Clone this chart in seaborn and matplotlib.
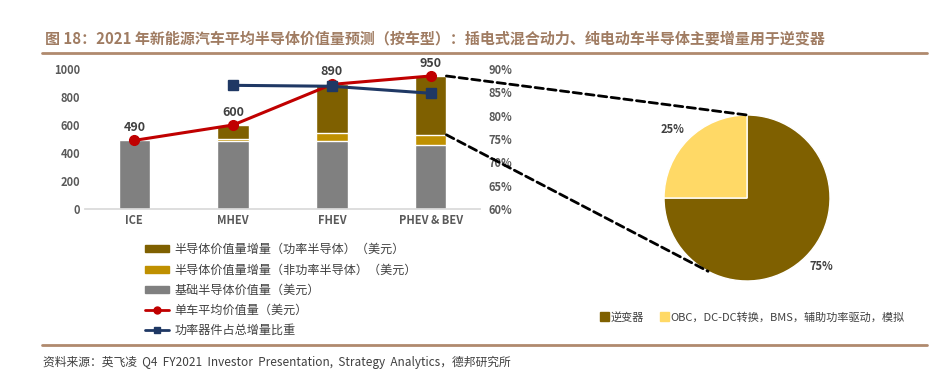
import numpy as np
import pandas as pd
import seaborn as sns
import matplotlib.pyplot as plt
from matplotlib.patches import ConnectionPatch, Patch
from matplotlib.lines import Line2D

# 数据
categories = ["ICE", "MHEV", "FHEV", "PHEV & BEV"]
base_value = [490, 485, 485, 460]          # 基础半导体价值量
non_power_inc = [0, 15, 55, 70]            # 非功率半导体增量
power_inc = [0, 100, 350, 420]             # 功率半导体增量
avg_value = [490, 600, 890, 950]           # 单车平均价值量
power_share = [np.nan, 86.5, 86.3, 84.8]   # 功率器件占总增量比重 (%)

pie_labels = ["逆变器", "OBC，DC-DC转换，BMS，辅助功率驱动，模拟"]
pie_values = [75, 25]

sns.set_theme(style="white")
plt.rcParams["font.family"] = ["Noto Sans CJK SC", "DejaVu Sans"]

c_power = "#7F6000"
c_nonpower = "#BF9000"
c_base = "#808080"
c_red = "#C00000"
c_blue = "#1F3864"
c_yellow = "#FFD966"
c_brown = "#B08A6E"
c_tick = "#595959"

df = pd.DataFrame({
    "cat": categories,
    "total": np.array(base_value) + np.array(non_power_inc) + np.array(power_inc),
    "mid": np.array(base_value) + np.array(non_power_inc),
    "base": base_value,
})

fig = plt.figure(figsize=(9.4, 3.9), dpi=100)
ax = fig.add_axes([0.0904, 0.4641, 0.4202, 0.359])

sns.barplot(data=df, x="cat", y="total", color=c_power, width=0.32, ax=ax, saturation=1)
sns.barplot(data=df, x="cat", y="mid", color=c_nonpower, width=0.32, ax=ax, saturation=1)
sns.barplot(data=df, x="cat", y="base", color=c_base, width=0.32, ax=ax, saturation=1)

xs = np.arange(len(categories))
ax.plot(xs, avg_value, color=c_red, lw=2.2, marker="o", ms=7, zorder=5)
for x, v in zip(xs, avg_value):
    ax.text(x, v + 45, f"{v}", ha="center", va="bottom", fontsize=9,
            color="#404040", fontweight="bold")

ax.set_xlim(-0.5, 3.5)
ax.set_ylim(0, 1000)
ax.set_yticks(range(0, 1001, 200))
ax.set_xlabel("")
ax.set_ylabel("")
ax.tick_params(axis="both", labelsize=8, colors=c_tick, length=0)
for lab in ax.get_xticklabels() + ax.get_yticklabels():
    lab.set_fontweight("bold")
for s in ["top", "right", "left"]:
    ax.spines[s].set_visible(False)
ax.spines["bottom"].set_color("#D9D9D9")

ax2 = ax.twinx()
ax2.plot(xs, power_share, color=c_blue, lw=2.2, marker="s", ms=7, zorder=5)
ax2.set_ylim(60, 90)
ax2.set_yticks(range(60, 91, 5))
ax2.set_yticklabels([f"{t}%" for t in range(60, 91, 5)])
ax2.tick_params(axis="y", labelsize=8, colors=c_tick, length=0, pad=6)
for lab in ax2.get_yticklabels():
    lab.set_fontweight("bold")
for s in ax2.spines.values():
    s.set_visible(False)

# 饼图
pax = fig.add_axes([0.7064, 0.2795, 0.1766, 0.4256])
wedges, _ = pax.pie(pie_values, colors=[c_power, c_yellow], startangle=90,
                    counterclock=False, radius=1)
pax.set_xlim(-1, 1)
pax.set_ylim(-1, 1)
pax.set_aspect("equal")
pax.text(-0.9, 0.82, "25%", ha="center", va="center", fontsize=8,
         fontweight="bold", color="#404040")
pax.text(0.9, -0.83, "75%", ha="center", va="center", fontsize=8,
         fontweight="bold", color="#404040")

# 虚线连接
ang = np.deg2rad(242)
for (ya, pt) in [(950, (0, 1)), (530, (np.cos(ang), np.sin(ang)))]:
    con = ConnectionPatch(xyA=(3 + 0.16, ya), coordsA=ax.transData,
                          xyB=pt, coordsB=pax.transData,
                          ls=(0, (3, 1.6)), lw=2, color="black", zorder=10)
    fig.add_artist(con)

# 左侧图例
handles = [
    Patch(color=c_power), Patch(color=c_nonpower), Patch(color=c_base),
    Line2D([], [], color=c_red, lw=2, marker="o", ms=5),
    Line2D([], [], color=c_blue, lw=2, marker="s", ms=5),
]
labels = ["半导体价值量增量（功率半导体）（美元）", "半导体价值量增量（非功率半导体）（美元）",
          "基础半导体价值量（美元）", "单车平均价值量（美元）", "功率器件占总增量比重"]
leg = fig.legend(handles, labels, loc="upper left", bbox_to_anchor=(0.148, 0.392),
                 frameon=False, fontsize=8.7, labelspacing=0.6, handlelength=2.0,
                 handleheight=0.5, handletextpad=0.4, borderpad=0)
for t in leg.get_texts():
    t.set_color("#404040")

# 饼图图例
pleg = fig.legend([Patch(color=c_power), Patch(color=c_yellow)], pie_labels,
                  loc="center left", bbox_to_anchor=(0.632, 0.187), ncol=2,
                  frameon=False, fontsize=8, handlelength=0.8, handleheight=0.8,
                  handletextpad=0.2, columnspacing=1.4, borderpad=0)
for t in pleg.get_texts():
    t.set_color("#404040")

# 标题与来源
fig.text(0.048, 0.902, "图 18：2021 年新能源汽车平均半导体价值量预测（按车型）：插电式混合动力、纯电动车半导体主要增量用于逆变器",
         fontsize=10.8, fontweight="bold", color="#A07C62", ha="left", va="center")
fig.add_artist(Line2D([0.045, 0.986], [0.864, 0.864], color=c_brown, lw=2))
fig.add_artist(Line2D([0.045, 0.986], [0.115, 0.115], color=c_brown, lw=2))
fig.text(0.046, 0.072, "资料来源：英飞凌  Q4  FY2021  Investor  Presentation,  Strategy  Analytics，德邦研究所",
         fontsize=8.5, color="#404040", ha="left", va="center")

fig.savefig("out.png", dpi=100)
